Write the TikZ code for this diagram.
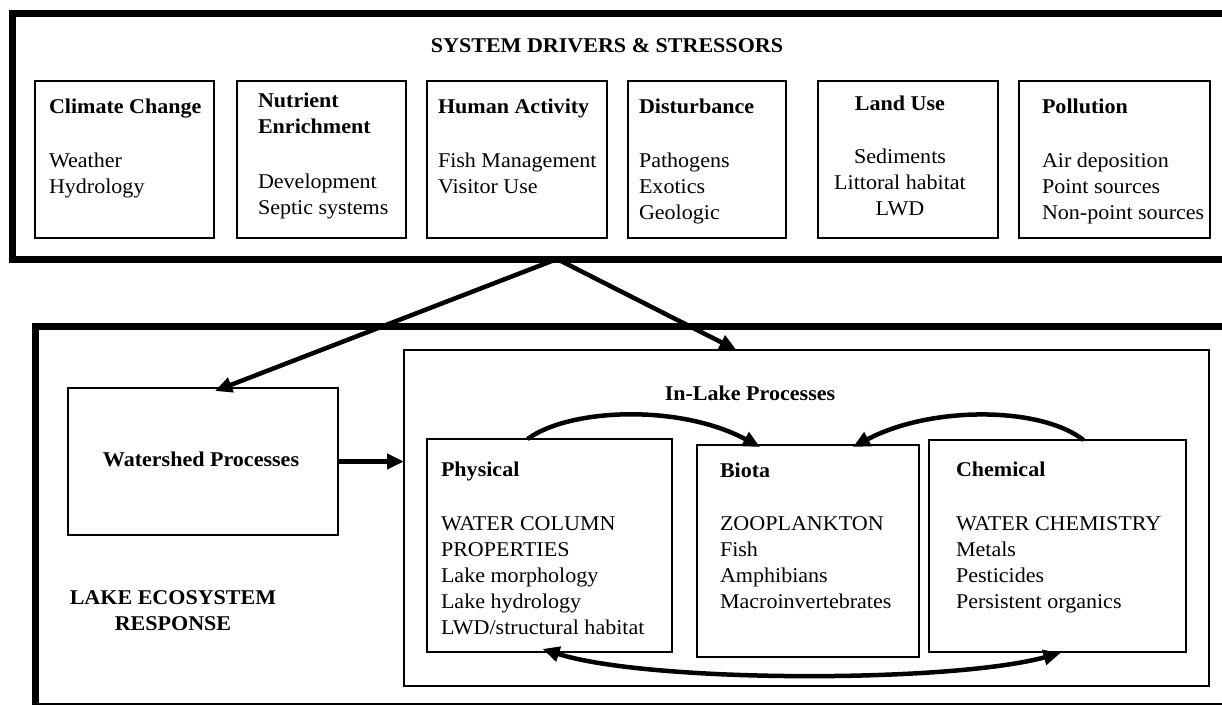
\documentclass[tikz,border=0pt]{standalone}
\usepackage{fontspec}
\setmainfont{Liberation Serif}[FakeStretch=1.05]
\usetikzlibrary{arrows.meta}
\begin{document}
\begin{tikzpicture}[x=1pt,y=-1pt,
  every node/.style={inner sep=0pt, outer sep=0pt, font=\fontsize{21}{26}\selectfont},
  frame/.style={draw, line width=7pt, anchor=north west},
  box/.style={draw, line width=1.4pt, anchor=north west},
  txt/.style={anchor=north west, align=left},
  ctxt/.style={anchor=north, align=center},
  hd/.style={font=\fontsize{21}{26}\selectfont\bfseries},
  hdc/.style={font=\fontsize{21}{26}\selectfont\bfseries, align=center},
  arr/.style={line width=4.5pt, -{Triangle[length=17pt,width=15pt]}},
  darr/.style={line width=4.5pt, {Triangle[length=17pt,width=15pt]}-{Triangle[length=17pt,width=15pt]}},
]
\useasboundingbox (0,0) rectangle (1222,704);
\clip (0,0) rectangle (1222,704);

% ---- top frame: drivers & stressors
\node[frame, minimum width=1300pt, minimum height=245.5pt] (drivers) at (12.5,13.5) {};
\node[hd] (drivershead) at (607,46) {SYSTEM DRIVERS \& STRESSORS};

\node[box, minimum width=179pt, minimum height=157pt] (climate) at (35,81) {};
\node[txt, hd] (climateT) at (49,99) {Climate Change};
\node[txt] (climateI) at (49,153) {Weather\\Hydrology};

\node[box, minimum width=169pt, minimum height=157pt] (nutrient) at (237,81) {};
\node[txt, hd] (nutrientT) at (258,93) {Nutrient\\Enrichment};
\node[txt] (nutrientI) at (258,174) {Development\\Septic systems};

\node[box, minimum width=180pt, minimum height=157pt] (human) at (427,81) {};
\node[txt, hd] (humanT) at (438,99) {Human Activity};
\node[txt] (humanI) at (438,153) {Fish Management\\Visitor Use};

\node[box, minimum width=158pt, minimum height=157pt] (disturb) at (628,81) {};
\node[txt, hd] (disturbT) at (639,99) {Disturbance};
\node[txt] (disturbI) at (639,153) {Pathogens\\Exotics\\Geologic};

\node[box, minimum width=180pt, minimum height=157pt] (landuse) at (818,81) {};
\node[ctxt, hdc] (landuseT) at (900,96) {Land Use};
\node[ctxt] (landuseI) at (900,149) {Sediments\\Littoral habitat\\LWD};

\node[box, minimum width=191pt, minimum height=157pt] (pollution) at (1019,81) {};
\node[txt, hd] (pollutionT) at (1042,99) {Pollution};
\node[txt] (pollutionI) at (1042,153) {Air deposition\\Point sources\\Non-point sources};

% ---- bottom frame: lake ecosystem response
\node[frame, minimum width=1265pt, minimum height=380pt] (response) at (35,326) {};
\node[ctxt, hdc] (responseT) at (173,591) {LAKE ECOSYSTEM\\RESPONSE};

\node[box, minimum width=270pt, minimum height=147pt] (ws) at (68,388) {};
\node[hd] (wsT) at (201,459) {Watershed Processes};

\node[box, minimum width=805pt, minimum height=336pt] (inlake) at (404,350) {};
\node[hd] (inlakeT) at (750,393) {In-Lake Processes};

\node[box, minimum width=245pt, minimum height=213pt] (phys) at (427,439) {};
\node[txt, hd] (physT) at (441,462) {Physical};
\node[txt] (physI) at (441,517) {WATER COLUMN\\PROPERTIES\\Lake morphology\\Lake hydrology\\LWD/structural habitat};

\node[box, minimum width=222pt, minimum height=212pt] (biota) at (697,445) {};
\node[txt, hd] (biotaT) at (720,463) {Biota};
\node[txt] (biotaI) at (720,517) {ZOOPLANKTON\\Fish\\Amphibians\\Macroinvertebrates};

\node[box, minimum width=257pt, minimum height=212pt] (chem) at (929,440) {};
\node[txt, hd] (chemT) at (956,462) {Chemical};
\node[txt] (chemI) at (956,517) {WATER CHEMISTRY\\Metals\\Pesticides\\Persistent organics};

% ---- connectors
\coordinate (apex) at (557,259);
\draw[arr] (apex) -- ([xshift=12pt,yshift=-3pt]ws.north);
\draw[arr] (apex) -- ([xshift=-70pt]inlake.north);
\draw[arr] (ws.east) -- (ws.east -| inlake.west);
\draw[arr] ([xshift=-22pt]phys.north) .. controls (570,408) and (680,404) .. ([xshift=-48pt,yshift=-2pt]biota.north);
\draw[arr] ([xshift=26pt]chem.north) .. controls (1040,406) and (930,406) .. ([xshift=45pt,yshift=-2pt]biota.north);
\draw[darr] ([xshift=-7pt,yshift=3pt]phys.south) .. controls (650,683) and (950,683) .. ([xshift=3pt,yshift=-1pt]chem.south);
\end{tikzpicture}
\end{document}
